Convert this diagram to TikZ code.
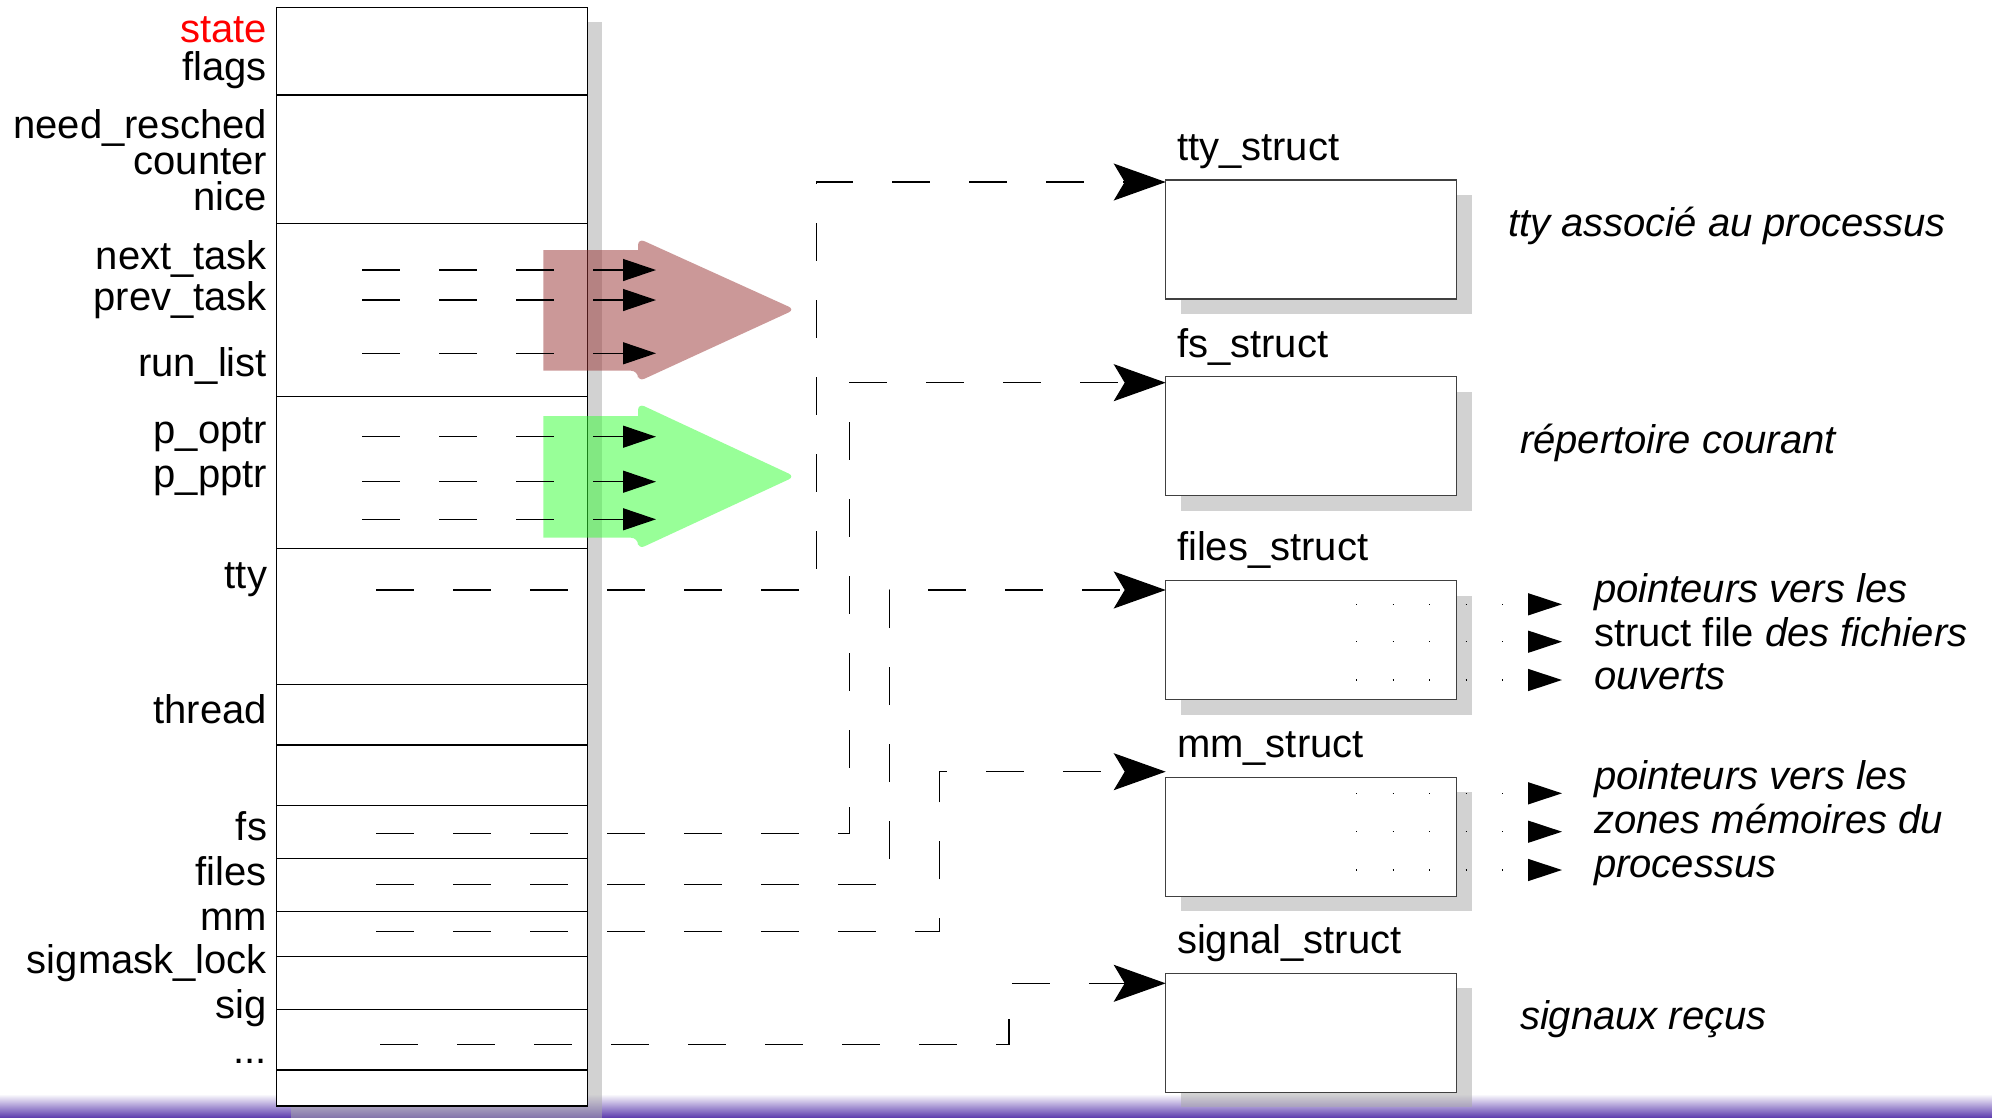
\documentclass[tikz,border=0pt]{standalone}
\usepackage{fontspec}
\setmainfont{Liberation Sans}
\usetikzlibrary{arrows.meta}
\definecolor{bandpurple}{RGB}{96,64,176}
\definecolor{shadowgray}{RGB}{170,170,170}
\definecolor{taskred}{RGB}{153,51,51}
\definecolor{taskgreen}{RGB}{51,255,51}

\begin{document}
\begin{tikzpicture}[x=1pt,y=-1pt,
  every node/.style={font=\fontsize{40}{44}\selectfont, inner sep=0pt, outer sep=0pt},
  field/.style={anchor=base east},
  title/.style={anchor=base west},
  desc/.style={anchor=base west, font=\fontsize{40}{44}\selectfont\itshape},
  cell/.style={draw=black, line width=1.3pt, fill=white, rectangle,
    minimum width=311pt, anchor=north west},
  structbox/.style={draw=black!75, line width=1.5pt, fill=white, rectangle,
    minimum width=291pt, minimum height=119pt, anchor=north west},
  drop/.style={fill=shadowgray, fill opacity=0.52},
  ptr/.style={draw=black, line width=1.3pt, dash pattern=on 38pt off 39pt},
  bigtip/.style={-{Stealth[length=52pt,width=37pt,inset=11pt]}},
  smalltip/.style={-{Triangle[length=33pt,width=22pt]}},
  dotptr/.style={draw=black, line width=1.4pt, dash pattern=on 1.4pt off 35.1pt,
    -{Triangle[length=34pt,width=22pt]}},
  listarrow/.style={fill opacity=0.5}
]
\useasboundingbox (0,0) rectangle (1992,1117);
\fill[white] (0,0) rectangle (1992,1117);

% bottom band
\shade[top color=white, bottom color=bandpurple] (0,1094) rectangle (1992,1117);

% drop shadows
\fill[drop] (291.3,22.3) rectangle (602.3,1121);
\fill[drop] (1180.7,195) rectangle (1471.7,314);
\fill[drop] (1180.7,391.7) rectangle (1471.7,510.7);
\fill[drop] (1180.7,595.7) rectangle (1471.7,714.7);
\fill[drop] (1180.7,792.3) rectangle (1471.7,911.3);
\fill[drop] (1180.7,988.3) rectangle (1471.7,1107.3);

% task_struct cells
\node[cell, minimum height=87.7pt]  (cState)  at (276.3,7.3)   {};
\node[cell, minimum height=128.3pt] (cSched)  at (276.3,95)    {};
\node[cell, minimum height=173.4pt] (cLinks)  at (276.3,223.3) {};
\node[cell, minimum height=151.6pt] (cFamily) at (276.3,396.7) {};
\node[cell, minimum height=136pt]   (cTty)    at (276.3,548.3) {};
\node[cell, minimum height=60.7pt]  (cThread) at (276.3,684.3) {};
\node[cell, minimum height=60.7pt]  (cBlank)  at (276.3,745)   {};
\node[cell, minimum height=52.6pt]  (cFs)     at (276.3,805.7) {};
\node[cell, minimum height=53.4pt]  (cFiles)  at (276.3,858.3) {};
\node[cell, minimum height=45pt]    (cMm)     at (276.3,911.7) {};
\node[cell, minimum height=52.6pt]  (cLock)   at (276.3,956.7) {};
\node[cell, minimum height=60.7pt]  (cSig)    at (276.3,1009.3){};
\node[cell, minimum height=36pt]    (cEnd)    at (276.3,1070)  {};

% referenced structures
\node[structbox] (tty)   at (1165.7,180)   {};
\node[structbox] (fsS)   at (1165.7,376.7) {};
\node[structbox] (filesS) at (1165.7,580.7) {};
\node[structbox] (mmS)   at (1165.7,777.3) {};
\node[structbox] (sigS)  at (1165.7,973.3) {};

% list arrows (task links and family links)
\fill[taskred, listarrow] (543.3,370.7) -- (543.3,250) -- (638,250)
  [rounded corners=7pt] -- (638,238.3) -- (795,309.5) -- (638,381.7)
  -- (638,370.7) [sharp corners] -- cycle;
\fill[taskgreen, listarrow] (543.3,537.7) -- (543.3,416) -- (638,416)
  [rounded corners=7pt] -- (638,403.3) -- (795,476.5) -- (638,549.3)
  -- (638,537.7) [sharp corners] -- cycle;

% field labels
\node[field, text=red] (lState) at (267,42.7) {state};
\node[field] (lFlags)   at (267,80)   {flags};
\node[field] (lResched) at (267,138)  {need\_resched};
\node[field] (lCounter) at (267,174)  {counter};
\node[field] (lNice)    at (267,210)  {nice};
\node[field] (lNext)    at (267,269)  {next\_task};
\node[field] (lPrev)    at (267,310)  {prev\_task};
\node[field] (lRun)     at (267,376)  {run\_list};
\node[field] (lOptr)    at (267,443)  {p\_optr};
\node[field] (lPptr)    at (267,487)  {p\_pptr};
\node[field] (lTty)     at (267,588)  {tty};
\node[field] (lThread)  at (267,723)  {thread};
\node[field] (lFs)      at (267,840)  {fs};
\node[field] (lFiles)   at (267,885)  {files};
\node[field] (lMm)      at (267,930)  {mm};
\node[field] (lLock)    at (267,973)  {sigmask\_lock};
\node[field] (lSig)     at (267,1018) {sig};
\node[field] (lMore)    at (267,1063) {...};

% structure titles
\node[title] (tTty)   at (1177,160) {tty\_struct};
\node[title] (tFs)    at (1177,357) {fs\_struct};
\node[title] (tFiles) at (1177,560) {files\_struct};
\node[title] (tMm)    at (1177,757) {mm\_struct};
\node[title] (tSig)   at (1177,953) {signal\_struct};

% descriptions
\node[desc] (dTty)    at (1508,236)  {tty associé au processus};
\node[desc] (dFs)     at (1520,453)  {répertoire courant};
\node[desc] (dFiles1) at (1594,602)  {pointeurs vers les};
\node[desc] (dFiles2) at (1594,646)  {{\upshape struct file} des fichiers};
\node[desc] (dFiles3) at (1594,689)  {ouverts};
\node[desc] (dMm1)    at (1594,789)  {pointeurs vers les};
\node[desc] (dMm2)    at (1594,833)  {zones mémoires du};
\node[desc] (dMm3)    at (1594,877)  {processus};
\node[desc] (dSig)    at (1520,1029) {signaux reçus};

% pointer origins inside the cells
\coordinate (pNext) at (362,270);
\coordinate (pPrev) at (362,300);
\coordinate (pRun)  at (362,353.3);
\coordinate (pOptr) at (362,436.7);
\coordinate (pPptr) at (362,481.7);
\coordinate (pCptr) at (362,519.3);
\coordinate (qNext) at (656,270);
\coordinate (qPrev) at (656,300);
\coordinate (qRun)  at (656,353.3);
\coordinate (qOptr) at (656,436.7);
\coordinate (qPptr) at (656,481.7);
\coordinate (qCptr) at (656,519.3);
\coordinate (pTty)   at (376,590);
\coordinate (pFs)    at (376,833.4);
\coordinate (pFiles) at (376,884.8);
\coordinate (pMm)    at (376,931.6);
\coordinate (pSig)   at (380,1044.4);

% bends of the routed pointers
\coordinate (bTty)   at (816.5,182);
\coordinate (bFs)    at (849.3,382.7);
\coordinate (bFiles) at (889.2,590);
\coordinate (bMm)    at (939.8,771.7);
\coordinate (bSig)   at (1009,983.3);

% entry points on the structures
\coordinate (eTty)   at ([yshift=-2pt]tty.north west);
\coordinate (eFs)    at ([yshift=-6pt]fsS.north west);
\coordinate (eFiles) at ([yshift=-9.3pt]filesS.north west);
\coordinate (eMm)    at ([yshift=5.6pt]mmS.north west);
\coordinate (eSig)   at ([yshift=-10pt]sigS.north west);

% list pointers
\draw[ptr, smalltip] (pNext) -- (qNext);
\draw[ptr, smalltip] (pPrev) -- (qPrev);
\draw[ptr, smalltip] (pRun)  -- (qRun);
\draw[ptr, smalltip] (pOptr) -- (qOptr);
\draw[ptr, smalltip] (pPptr) -- (qPptr);
\draw[ptr, smalltip] (pCptr) -- (qCptr);

% pointers to the structures
\draw[ptr, bigtip] (pTty)   -| (bTty)   -- (eTty);
\draw[ptr, bigtip] (pFs)    -| (bFs)    -- (eFs);
\draw[ptr, bigtip] (pFiles) -| (bFiles) -- (eFiles);
\draw[ptr, bigtip] (pMm)    -| (bMm)    -- (eMm);
\draw[ptr, bigtip] (pSig)   -| (bSig)   -- (eSig);

% pointers leaving files_struct and mm_struct
\foreach \y [count=\i] in {604.3,641.7,680} {
  \coordinate (fo\i) at (1356,\y);
  \coordinate (ft\i) at (1562,\y);
  \draw[dotptr] (fo\i) -- (ft\i);
}
\foreach \y [count=\i] in {793.3,831.7,870} {
  \coordinate (mo\i) at (1356,\y);
  \coordinate (mt\i) at (1562,\y);
  \draw[dotptr] (mo\i) -- (mt\i);
}
\end{tikzpicture}
\end{document}
